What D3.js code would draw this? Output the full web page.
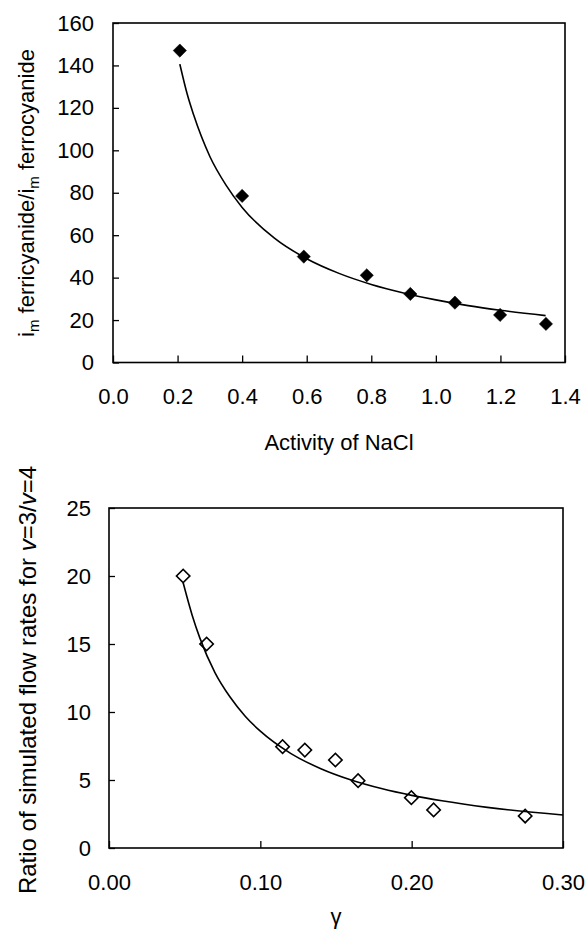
<!DOCTYPE html>
<html><head><meta charset="utf-8">
<script src="https://cdn.jsdelivr.net/npm/d3@7"></script>
<style>
body{margin:0;background:#fff;}
svg{display:block;font-family:"Liberation Sans",Arial,sans-serif;}
</style></head>
<body><svg id="c" width="587" height="932"></svg>
<script>
// ---- Top chart data ----
const topX = [0.207, 0.40, 0.591, 0.786, 0.921, 1.059, 1.199, 1.341];
const topY = [147, 78.5, 49.9, 41.1, 32.3, 28.2, 22.4, 18.2];
const topCurveX = [0.207, 0.23, 0.25, 0.30, 0.35, 0.40, 0.50, 0.60, 0.70, 0.80, 0.90, 1.00, 1.10, 1.20, 1.34];
const topCurveY = [140.6, 126.4, 116.6, 97.1, 83.6, 73.1, 58.6, 48.9, 42.0, 36.8, 32.8, 29.5, 26.8, 24.6, 22.1];
const topXTicks = [0.0, 0.2, 0.4, 0.6, 0.8, 1.0, 1.2, 1.4];
const topYTicks = [0, 20, 40, 60, 80, 100, 120, 140, 160];

// ---- Bottom chart data ----
const botX = [0.049, 0.0645, 0.1147, 0.1294, 0.1496, 0.1646, 0.1998, 0.2145, 0.275];
const botY = [20.0, 15.0, 7.45, 7.2, 6.47, 4.95, 3.7, 2.8, 2.35];
const botCurveX = [0.049, 0.055, 0.06, 0.07, 0.08, 0.09, 0.10, 0.12, 0.14, 0.16, 0.18, 0.20, 0.22, 0.25, 0.30];
const botCurveY = [19.5, 17.1, 15.45, 12.9, 11.1, 9.69, 8.59, 6.96, 5.83, 5.0, 4.37, 3.87, 3.47, 2.99, 2.43];
const botXTicks = [0.0, 0.1, 0.2, 0.3];
const botYTicks = [0, 5, 10, 15, 20, 25];

const svg = d3.select("#c");
const FS = 22;

function panel(cfg){
  const x = d3.scaleLinear().domain(cfg.xDom).range([cfg.x0, cfg.x1]);
  const y = d3.scaleLinear().domain(cfg.yDom).range([cfg.y0, cfg.y1]);
  const g = svg.append("g");
  g.append("rect").attr("x", cfg.x0).attr("y", cfg.y1)
    .attr("width", cfg.x1 - cfg.x0).attr("height", cfg.y0 - cfg.y1)
    .attr("fill", "none").attr("stroke", "#000").attr("stroke-width", 1.6);
  const xa = g.append("g").attr("transform", `translate(0,${cfg.y0})`)
    .call(d3.axisBottom(x).tickValues(cfg.xTicks).tickFormat(d3.format(cfg.xFmt))
      .tickSizeInner(-7).tickSizeOuter(0).tickPadding(cfg.xPad));
  xa.select(".domain").remove();
  xa.selectAll("line").attr("stroke", "#000").attr("stroke-width", 1.3);
  xa.selectAll("text").attr("font-size", FS).attr("fill", "#000")
    .attr("font-family", "Liberation Sans, Arial, sans-serif");
  const ya = g.append("g").attr("transform", `translate(${cfg.x0},0)`)
    .call(d3.axisLeft(y).tickValues(cfg.yTicks).tickFormat(d3.format("d"))
      .tickSizeInner(-6).tickSizeOuter(0).tickPadding(cfg.yPad));
  ya.select(".domain").remove();
  ya.selectAll("line").attr("stroke", "#000").attr("stroke-width", 1.3);
  ya.selectAll("text").attr("font-size", FS).attr("fill", "#000")
    .attr("font-family", "Liberation Sans, Arial, sans-serif");
  const pts = cfg.cx.map((v, i) => [v, cfg.cy[i]]);
  g.append("path").datum(pts)
    .attr("d", d3.line().x(d => x(d[0])).y(d => y(d[1])).curve(d3.curveMonotoneX))
    .attr("fill", "none").attr("stroke", "#000").attr("stroke-width", 1.6);
  const sym = d3.symbol().type(d3.symbolSquare).size(cfg.msize);
  const mp = cfg.px.map((v, i) => [v, cfg.py[i]]);
  g.selectAll("path.m").data(mp).enter().append("path").attr("class", "m")
    .attr("d", sym)
    .attr("transform", d => `translate(${x(d[0])},${y(d[1])}) rotate(45)`)
    .attr("fill", cfg.filled ? "#000" : "none")
    .attr("stroke", "#000").attr("stroke-width", cfg.filled ? 0.5 : 1.6);
  return {x, y};
}

panel({xDom:[0,1.4], yDom:[0,160], x0:113, x1:565, y0:362.5, y1:23,
  xTicks: topXTicks, yTicks: topYTicks, xFmt: ".1f", xPad: 26, yPad: 19,
  cx: topCurveX, cy: topCurveY, px: topX, py: topY, msize: 88, filled: true});

panel({xDom:[0,0.3], yDom:[0,25], x0:109, x1:563, y0:848, y1:508,
  xTicks: botXTicks, yTicks: botYTicks, xFmt: ".2f", xPad: 26, yPad: 18,
  cx: botCurveX, cy: botCurveY, px: botX, py: botY, msize: 90, filled: false});

// ---- Titles ----
const t1 = svg.append("text").attr("transform", "translate(34,193) rotate(-90)")
  .attr("text-anchor", "middle").attr("font-size", FS).attr("fill", "#000");
t1.append("tspan").text("i");
t1.append("tspan").attr("font-size", 15).attr("dy", 5).text("m");
t1.append("tspan").attr("dy", -5).text(" ferricyanide/i");
t1.append("tspan").attr("font-size", 15).attr("dy", 5).text("m");
t1.append("tspan").attr("dy", -5).text(" ferrocyanide");

svg.append("text").attr("x", 339).attr("y", 450).attr("text-anchor", "middle")
  .attr("font-size", FS).attr("fill", "#000").text("Activity of NaCl");

const t2 = svg.append("text").attr("transform", "translate(36,680) rotate(-90)")
  .attr("text-anchor", "middle").attr("font-size", 24).attr("fill", "#000");
t2.append("tspan").text("Ratio of simulated flow rates for ");
t2.append("tspan").attr("font-style", "italic").text("v");
t2.append("tspan").text("=3/");
t2.append("tspan").attr("font-style", "italic").text("v");
t2.append("tspan").text("=4");

svg.append("text").attr("x", 336).attr("y", 924).attr("text-anchor", "middle")
  .attr("font-size", FS).attr("fill", "#000").text("γ");
</script></body></html>
